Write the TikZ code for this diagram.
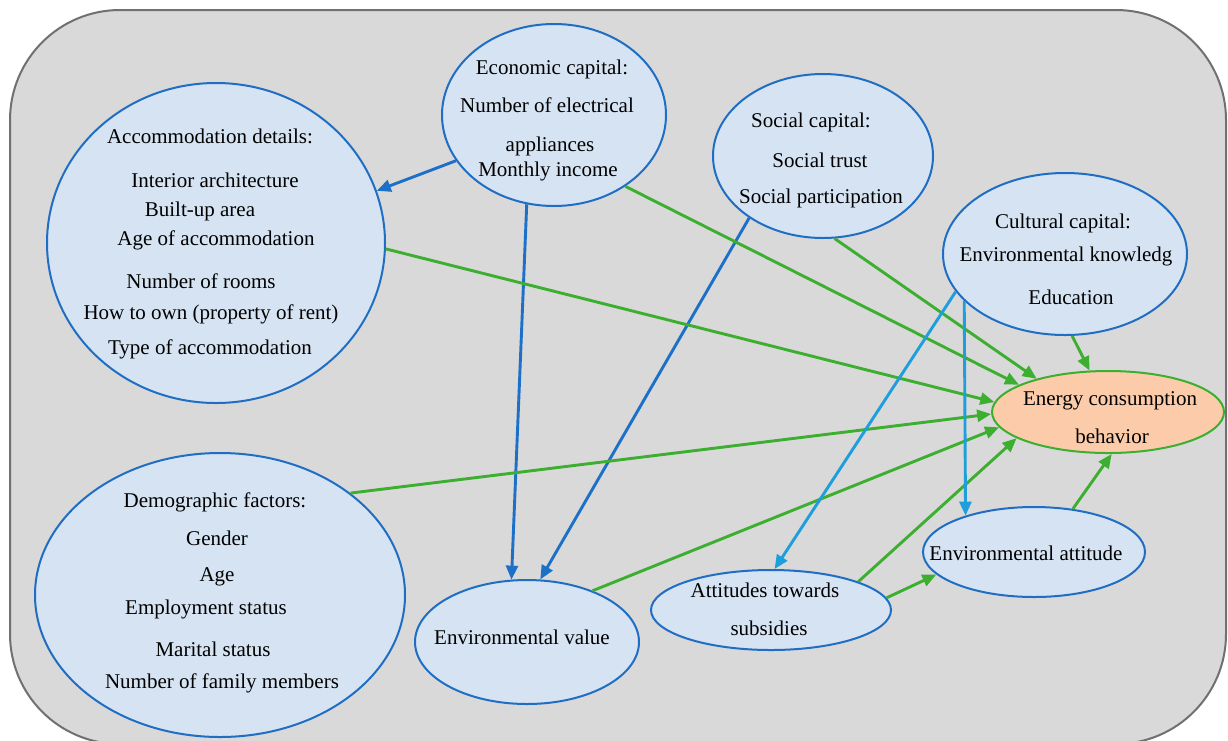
\documentclass[tikz,border=0pt]{standalone}
\usepackage{fontspec}
\setmainfont{Liberation Serif}
\usetikzlibrary{shapes.geometric,arrows.meta}
\definecolor{bgfill}{RGB}{217,217,217}
\definecolor{bgdraw}{RGB}{112,112,112}
\definecolor{ellfill}{RGB}{214,227,242}
\definecolor{elldraw}{RGB}{31,110,196}
\definecolor{dblue}{RGB}{28,112,200}
\definecolor{lblue}{RGB}{30,158,220}
\definecolor{grn}{RGB}{60,174,48}
\definecolor{peach}{RGB}{252,204,170}
\begin{document}
\begin{tikzpicture}[x=1pt,y=-1pt,
  ell/.style={ellipse, draw=elldraw, fill=ellfill, line width=2pt, inner sep=0pt},
  txt/.style={font=\fontsize{21}{24}\selectfont, anchor=base, yshift=-7pt, inner sep=0pt},
  arr/.style={line width=2.9pt, -{Triangle[length=14pt,width=12pt]}},
  darr/.style={arr, draw=dblue, fill=dblue},
  larr/.style={arr, draw=lblue, fill=lblue},
  garr/.style={arr, draw=grn, fill=grn}]
\useasboundingbox (0,0) rectangle (1228,740);
\path[fill=bgfill, draw=bgdraw, line width=2pt, rounded corners=110pt] (10,10) rectangle (1226,744);
% ellipses
\node[ell, minimum width=338pt, minimum height=320pt] (acc) at (216,243) {};
\node[ell, minimum width=224pt, minimum height=182pt] (eco) at (554,115) {};
\node[ell, minimum width=220pt, minimum height=164pt] (soc) at (823,156) {};
\node[ell, minimum width=244pt, minimum height=162pt] (cul) at (1065,254) {};
\node[ellipse, draw=grn, fill=peach, line width=2pt, inner sep=0pt, minimum width=232pt, minimum height=82pt] (ene) at (1108,412) {};
\node[ell, minimum width=370pt, minimum height=284pt] (dem) at (220,595) {};
\node[ell, minimum width=224pt, minimum height=124pt] (val) at (527,642) {};
\node[ell, minimum width=240pt, minimum height=80pt] (sub) at (771,610) {};
\node[ell, minimum width=222pt, minimum height=90pt] (att) at (1034,552) {};
% texts
\foreach \x/\y/\t [count=\i] in {210/136/{Accommodation details:}, 215/180/{Interior architecture}, 200/209/{Built-up area}, 216/238/{Age of accommodation}, 201/281/{Number of rooms}, 211/312/{How to own (property of rent)}, 210/347/{Type of accommodation}}
  \node[txt] (acc-\i) at (\x,\y) {\t};
\foreach \x/\y/\t [count=\i] in {552/67/{Economic capital:}, 547/105/{Number of electrical}, 550/144/{appliances}, 548/169/{Monthly income}}
  \node[txt] (eco-\i) at (\x,\y) {\t};
\foreach \x/\y/\t [count=\i] in {811/120/{Social capital:}, 820/160/{Social trust}, 821/196/{Social participation}}
  \node[txt] (soc-\i) at (\x,\y) {\t};
\foreach \x/\y/\t [count=\i] in {1063/221/{Cultural capital:}, 1066/254/{Environmental knowledg}, 1071/297/{Education}}
  \node[txt] (cul-\i) at (\x,\y) {\t};
\foreach \x/\y/\t [count=\i] in {1110/398/{Energy consumption}, 1112/436/{behavior}}
  \node[txt] (ene-\i) at (\x,\y) {\t};
\foreach \x/\y/\t [count=\i] in {215/500/{Demographic factors:}, 217/538/{Gender}, 217/574/{Age}, 206/607/{Employment status}, 213/649/{Marital status}, 222/681/{Number of family members}}
  \node[txt] (dem-\i) at (\x,\y) {\t};
\node[txt] (val-1) at (522,637) {Environmental value};
\node[txt] (sub-1) at (765,590) {Attitudes towards};
\node[txt] (sub-2) at (769,628) {subsidies};
\node[txt] (att-1) at (1026,553) {Environmental attitude};
% connectors
\draw[darr] (eco.205) -- (acc.18);
\draw[darr] (eco.253) -- (val.104);
\draw[darr] (soc.220) -- (val.78);
\draw[garr] (eco.315) -- (ene.163);
\draw[garr] (soc.278) -- (ene.155);
\draw[garr] (acc.358) -- (ene.175);
\draw[garr] (dem.38) -- (ene.181);
\draw[garr] (val.38) -- (ene.188);
\draw[garr] (sub.18) -- (ene.196);
\draw[garr] (cul.275) -- (ene.114);
\draw[garr] (att.48) -- (ene.275);
\draw[larr] (cul.199) -- (sub.85);
\draw[larr] (cul.205) -- (att.152);
\draw[garr] (sub.6) -- (att.193);
\end{tikzpicture}
\end{document}
